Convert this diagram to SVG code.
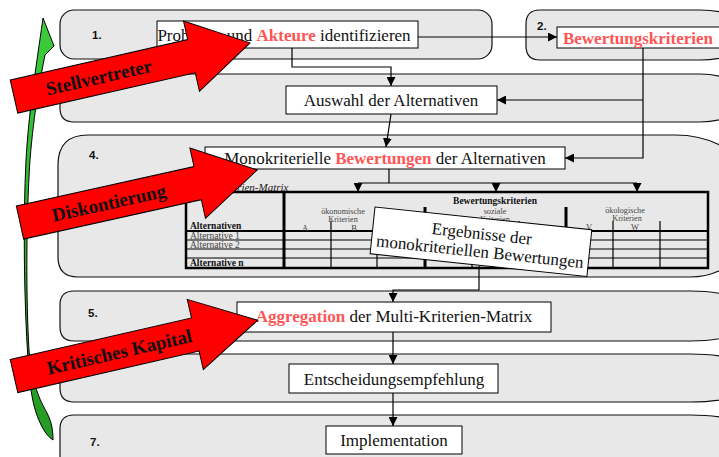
<svg xmlns="http://www.w3.org/2000/svg" width="719" height="457" viewBox="0 0 719 457">
<style>
.band{fill:#e8e8e8;stroke:#111;stroke-width:1.2}
.box{fill:#fff;stroke:#000;stroke-width:1}
.bt{font-family:"Liberation Serif","Times New Roman",serif;font-size:17px;fill:#111}
.red{fill:#ff5555;font-weight:bold}
.num{font-family:"Liberation Sans",Arial,sans-serif;font-size:11.5px;font-weight:bold;fill:#111}
.con{fill:none;stroke:#000;stroke-width:1.2}
.mt{font-family:"Liberation Serif","Times New Roman",serif;font-size:9.5px;fill:#444}
.mh{font-family:"Liberation Serif","Times New Roman",serif;font-size:8.2px;fill:#444}
.ml{font-family:"Liberation Serif","Times New Roman",serif;font-size:8.5px;fill:#444}
.mb{font-family:"Liberation Serif","Times New Roman",serif;font-size:9.5px;font-weight:bold;fill:#111}
.thick{stroke:#000;stroke-width:3}
.thin{stroke:#000;stroke-width:1.2}
.ra{fill:#ff0000;stroke:#000;stroke-width:1}
.rt{font-family:"Liberation Serif","Times New Roman",serif;font-size:19px;font-weight:bold;fill:#111}
</style>
<defs>
<marker id="ah" viewBox="0 0 10 10" refX="10" refY="5" markerWidth="9" markerHeight="9" markerUnits="userSpaceOnUse" orient="auto"><path d="M0,0 L10,5 L0,10 z" fill="#000"/></marker>
<linearGradient id="gg" x1="0" y1="0" x2="0" y2="1"><stop offset="0" stop-color="#3ccc3c"/><stop offset="1" stop-color="#249a24"/></linearGradient>
</defs>

<g id="bands">
<rect class="band" x="60" y="10" width="432" height="49" rx="14"/>
<path class="band" d="M540,10 H700 Q725,10 740,20 V50 Q725,60 700,60 H540 Q526,60 526,46 V24 Q526,10 540,10 Z"/>
<path class="band" d="M60,74 H700 Q725,74 740,86 V110 Q725,122 700,122 H74 Q60,122 60,108 Z"/>
<path class="band" d="M88,135 H675 Q715,135 740,160 V255 Q720,277 690,277 H78 Q58,277 58,257 V165 Q58,135 88,135 Z"/>
<path class="band" d="M74,291 H690 Q720,291 740,299 V333 Q720,341 690,341 H74 Q60,341 60,327 V305 Q60,291 74,291 Z"/>
<path class="band" d="M60,354 H690 Q720,354 740,361 V395 Q720,402 690,402 H74 Q60,402 60,388 Z"/>
<path class="band" d="M74,415 H690 Q720,415 740,422 V470 H60 V429 Q60,415 74,415 Z"/>
<text class="num" x="92" y="39">1.</text>
<text class="num" x="537" y="30">2.</text>
<text class="num" x="89" y="159">4.</text>
<text class="num" x="88" y="317">5.</text>
<text class="num" x="90" y="446">7.</text>
</g>

<g id="connectors">
<path class="con" d="M292,48 V67 H391 V86" marker-end="url(#ah)"/>
<path class="con" d="M418,37 H557" marker-end="url(#ah)"/>
<path class="con" d="M643,48 V158 H565" marker-end="url(#ah)"/>
<path class="con" d="M643,100 H497" marker-end="url(#ah)"/>
<path class="con" d="M391,114 L386,147" marker-end="url(#ah)"/>
<path class="con" d="M389,169 V183 M358,183 H637"/>
<path class="con" d="M358,183 V192" marker-end="url(#ah)"/>
<path class="con" d="M496,183 V192" marker-end="url(#ah)"/>
<path class="con" d="M637,183 V192" marker-end="url(#ah)"/>
<path class="con" d="M479,266 V290 H393 V302" marker-end="url(#ah)"/>
<path class="con" d="M393,332 V364" marker-end="url(#ah)"/>
<path class="con" d="M393,393 V426" marker-end="url(#ah)"/>
</g>

<g id="n1"><rect class="box" x="157" y="21" width="261" height="27"/><text class="bt" x="284" y="41" text-anchor="middle">Probleme und <tspan class="red">Akteure</tspan> identifizieren</text></g>
<g id="n2"><rect class="box" x="557" y="27" width="170" height="21"/><text class="bt red" x="638" y="44" text-anchor="middle">Bewertungskriterien</text></g>
<g id="n3"><rect class="box" x="286" y="86" width="211" height="28"/><text class="bt" x="391" y="106" text-anchor="middle">Auswahl der Alternativen</text></g>
<g id="n4"><rect class="box" x="205" y="147" width="360" height="22"/><text class="bt" x="385" y="164" text-anchor="middle">Monokriterielle <tspan class="red">Bewertungen</tspan> der Alternativen</text></g>

<g id="matrix">
<text x="187" y="191" font-family="Liberation Serif, Times New Roman, serif" font-size="11px" font-style="italic" fill="#222">Multi-Kriterien-Matrix</text>
<rect x="186" y="192" width="522" height="76" fill="none" stroke="#000" stroke-width="2.5"/>
<line class="thick" x1="284" y1="192" x2="284" y2="268"/>
<line class="thick" x1="425" y1="207" x2="425" y2="268"/>
<line class="thick" x1="566" y1="207" x2="566" y2="268"/>
<line class="thin" x1="331" y1="221" x2="331" y2="268"/>
<line class="thin" x1="377" y1="221" x2="377" y2="268"/>
<line class="thin" x1="472" y1="221" x2="472" y2="268"/>
<line class="thin" x1="519" y1="221" x2="519" y2="268"/>
<line class="thin" x1="613" y1="221" x2="613" y2="268"/>
<line class="thin" x1="660" y1="221" x2="660" y2="268"/>
<line x1="186" y1="231" x2="708" y2="231" stroke="#000" stroke-width="2"/>
<line class="thin" x1="186" y1="240" x2="708" y2="240"/>
<line class="thin" x1="186" y1="249" x2="708" y2="249"/>
<line class="thin" x1="186" y1="258" x2="708" y2="258"/>
<text class="mb" x="495" y="204" text-anchor="middle">Bewertungskriterien</text>
<text class="mh" x="495" y="213.5" text-anchor="middle">soziale</text>
<text class="mh" x="495" y="222" text-anchor="middle">Kriterien</text>
<text class="mh" x="343" y="213.5" text-anchor="middle">ökonomische</text>
<text class="mh" x="343" y="221.5" text-anchor="middle">Kriterien</text>
<text class="mh" x="625" y="212.5" text-anchor="middle">ökologische</text>
<text class="mh" x="627" y="220.5" text-anchor="middle">Kriterien</text>
<text class="ml" x="305" y="230.5" text-anchor="middle">A</text>
<text class="ml" x="354" y="230.5" text-anchor="middle">B</text>
<text class="ml" x="589" y="230" text-anchor="middle">V</text>
<text class="ml" x="635" y="230" text-anchor="middle">W</text>
<text class="mb" x="190" y="229">Alternativen</text>
<text class="mt" x="190" y="239">Alternative 1</text>
<text class="mt" x="190" y="248">Alternative 2</text>
<text class="mb" x="190" y="266">Alternative n</text>
</g>

<g id="result" transform="translate(375,207) rotate(6)">
<rect x="0" y="0" width="218" height="47" fill="#fff" stroke="#000" stroke-width="1"/>
<text class="bt" x="109" y="21" text-anchor="middle">Ergebnisse der</text>
<text class="bt" x="109" y="39" text-anchor="middle">monokriteriellen Bewertungen</text>
</g>

<g id="n5"><rect class="box" x="237" y="302" width="314" height="30"/><text class="bt" x="394" y="322" text-anchor="middle"><tspan class="red">Aggregation</tspan> der Multi-Kriterien-Matrix</text></g>
<g id="n6"><rect class="box" x="289" y="364" width="209" height="29"/><text class="bt" x="394" y="385" text-anchor="middle">Entscheidungsempfehlung</text></g>
<g id="n7"><rect class="box" x="326" y="426" width="136" height="28"/><text class="bt" x="394" y="446" text-anchor="middle">Implementation</text></g>

<g id="green-arrow">
<path d="M43,18 L54,46 L45,55 C41,75 34,110 30,160 C26,220 26,300 29,350 C32,385 40,400 47,413 C51,421 53,428 53,440 C47,436 43,430 38,418 C33,405 30,390 28,360 C24,300 23,220 26,160 C29,110 35,75 43,18 Z" fill="url(#gg)" stroke="#000" stroke-width="1"/>
</g>

<g id="arrow-stellvertreter" transform="translate(14,96.5) rotate(-12.8)">
<polygon class="ra" points="0,-17 182,-17 182,-36 242,0 182,36 182,17 0,17"/>
<text class="rt" x="87" y="6.5" text-anchor="middle">Stellvertreter</text>
</g>
<g id="arrow-diskontierung" transform="translate(20,222.5) rotate(-12.5)">
<polygon class="ra" points="0,-17 182,-17 182,-36 243,0 182,36 182,17 0,17"/>
<text class="rt" x="91" y="6.5" text-anchor="middle">Diskontierung</text>
</g>
<g id="arrow-kapital" transform="translate(14,376) rotate(-12.9)">
<polygon class="ra" points="0,-17 186,-17 186,-36 250,0 186,36 186,17 0,17"/>
<text class="rt" x="108" y="6.5" text-anchor="middle">Kritisches Kapital</text>
</g>
</svg>
